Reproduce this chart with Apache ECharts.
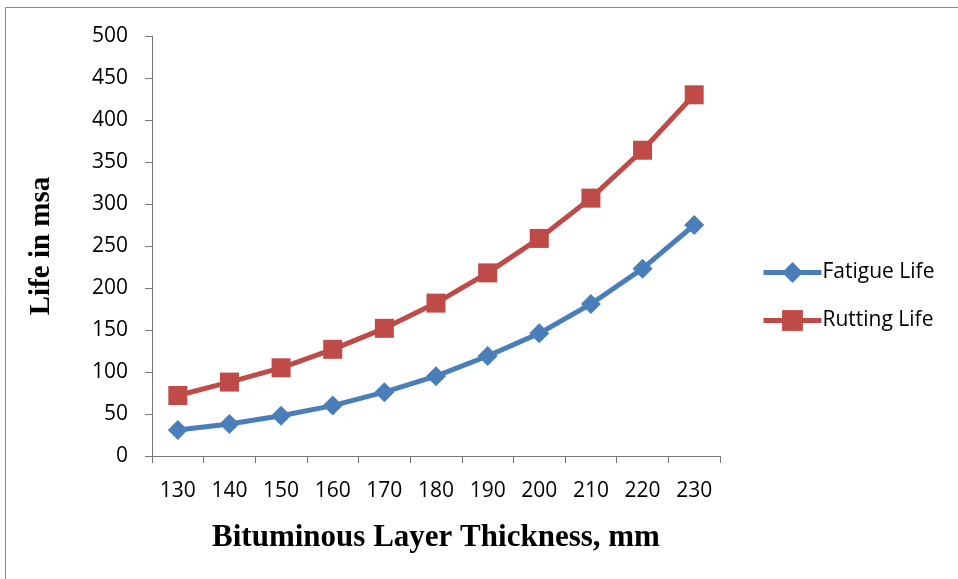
<!DOCTYPE html>
<html><head><meta charset="utf-8">
<script src="https://cdn.jsdelivr.net/npm/echarts@6/dist/echarts.min.js"></script>
<style>html,body{margin:0;padding:0;background:#fff}#c{width:958px;height:579px}</style>
</head><body><div id="c"></div>
<script>
const categories = ['130','140','150','160','170','180','190','200','210','220','230'];
const fatigueLife = [31, 38, 48, 60, 76, 95, 119, 146, 181, 223, 275];
const ruttingLife = [72, 88, 105, 127, 152, 182, 218, 259, 307, 364, 430];
const yTicks = {min: 0, max: 500, interval: 50};

const chart = echarts.init(document.getElementById('c'));
const lblFont = '"Open Sans", "Noto Sans", sans-serif';
chart.setOption({
  animation: false,
  graphic: [{type:'rect', shape:{x:5.5, y:7.5, width:1000, height:1000}, style:{fill:'none', stroke:'#888', lineWidth:1}}],
  grid: {left: 152, right: 238, top: 36, bottom: 123},
  legend: {
    orient: 'vertical', left: 756, top: 257, itemWidth: 58, itemHeight: 26, itemGap: 27,
    lineStyle: {width: 5},
    textStyle: {fontFamily: lblFont, fontSize: 21, color: '#000', padding:[0,0,0,-4]},
    data: ['Fatigue Life','Rutting Life']
  },
  xAxis: {
    type: 'category', data: categories, boundaryGap: true,
    name: 'Bituminous Layer Thickness, mm', nameLocation: 'middle', nameGap: 66,
    nameTextStyle: {fontFamily: '"Liberation Serif", serif', fontWeight: 'bold', fontSize: 31, color: '#000'},
    axisLine: {lineStyle: {color: '#777'}},
    axisTick: {show: true, length: 7, lineStyle: {color: '#777'}},
    axisLabel: {fontFamily: lblFont, fontSize: 21, color: '#000', margin: 25},
    splitLine: {show: false}
  },
  yAxis: {
    type: 'value', min: yTicks.min, max: yTicks.max, interval: yTicks.interval,
    name: 'Life in msa', nameLocation: 'middle', nameGap: 96, nameRotate: 90,
    nameTextStyle: {fontFamily: '"Liberation Serif", serif', fontWeight: 'bold', fontSize: 29, color: '#000'},
    axisLine: {show: true, lineStyle: {color: '#777'}},
    axisTick: {show: true, length: 7, lineStyle: {color: '#777'}},
    axisLabel: {fontFamily: lblFont, fontSize: 21, color: '#000', margin: 24},
    splitLine: {show: false}
  },
  series: [
    {name: 'Fatigue Life', type: 'line', data: fatigueLife, symbol: 'diamond', symbolSize: 20,
     lineStyle: {width: 5, color: '#4A7EBB'}, itemStyle: {color: '#4A7EBB'}},
    {name: 'Rutting Life', type: 'line', data: ruttingLife, symbol: 'rect', symbolSize: 19,
     lineStyle: {width: 5, color: '#BE4B48'}, itemStyle: {color: '#BE4B48'}}
  ]
});
</script></body></html>
